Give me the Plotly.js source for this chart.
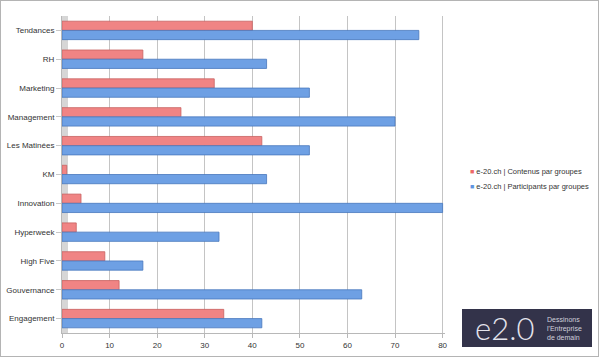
<!DOCTYPE html>
<html><head><meta charset="utf-8">
<script src="https://cdn.plot.ly/plotly-3.0.1.min.js"></script>
<style>html,body{margin:0;padding:0;background:#fff}#c{width:597px;height:355px;border:1px solid #b4b4b4}</style>
</head><body><div id="c"></div>
<script>
const categories = ["Tendances","RH","Marketing","Management","Les Matinées","KM","Innovation","Hyperweek","High Five","Gouvernance","Engagement"];
const contenus = [40,17,32,25,42,1,4,3,9,12,34];
const participants = [75,43,52,70,52,43,80,33,17,63,42];
const seriesNames = ["e-20.ch | Contenus par groupes","e-20.ch | Participants par groupes"];
const xTicks = [0,10,20,30,40,50,60,70,80];

const W=597,H=355,L=61,R=153,T=15,B=23;
const pw=W-L-R, ph=H-T-B;
const px=x=>(x-L)/pw, py=y=>1-(y-T)/ph;
const font="Liberation Sans, Arial, sans-serif";
const red='#f08484', redL='#c86261', blue='#6ea0e4', blueL='#4877bd';
const legRed='#ee6868', legBlue='#5f95e0';

const data=[
 {type:'bar',orientation:'h',name:seriesNames[0],y:categories,x:contenus,
  marker:{color:red,line:{color:redL,width:0.8}}},
 {type:'bar',orientation:'h',name:seriesNames[1],y:categories,x:participants,
  marker:{color:blue,line:{color:blueL,width:0.8}}}
];
const legendAnn=seriesNames.map((n,i)=>({
  xref:'paper',yref:'paper',x:px(467),y:py(170+i*15),xanchor:'left',yanchor:'middle',showarrow:false,
  text:'<span style="color:'+(i?legBlue:legRed)+';font-size:7px">■</span> '+n,
  font:{family:font,size:7.5,color:'#333'}
}));
const layout={
 width:W,height:H,margin:{l:L,r:R,t:T,b:B,autoexpand:false},
 paper_bgcolor:'#fff',plot_bgcolor:'#fff',
 barmode:'group',bargap:0.36,bargroupgap:0,
 font:{family:font,size:8,color:'#333'},
 showlegend:false,
 xaxis:{range:[0,80.5],tickvals:xTicks,showgrid:true,gridcolor:'#c4c4c4',gridwidth:1,
   zeroline:false,showline:true,linecolor:'#b8b8b8',ticks:'outside',ticklen:4,tickcolor:'#b8b8b8',
   tickfont:{size:8,color:'#333'},fixedrange:true,automargin:false},
 yaxis:{range:[10.5,-0.5],categoryorder:'array',categoryarray:categories,showgrid:false,showline:true,
   linecolor:'#b8b8b8',ticks:'outside',ticklen:5,tickcolor:'#c8c8c8',tickfont:{size:8,color:'#333'},
   fixedrange:true,automargin:false},
 shapes:[
  {type:'rect',xref:'paper',yref:'paper',x0:0,x1:px(67),y0:0,y1:1,fillcolor:'#d6d6d6',line:{width:0},layer:'below'},
  {type:'rect',xref:'paper',yref:'paper',x0:px(461),x1:px(591),y0:py(346),y1:py(308),fillcolor:'#33334a',line:{width:0}}
 ],
 annotations:[
  {xref:'paper',yref:'paper',x:px(503),y:py(327),xanchor:'center',yanchor:'middle',text:'e2.0',showarrow:false,
   font:{family:'Lato, sans-serif',size:31,weight:300,color:'#e4e4ec'}},
  {xref:'paper',yref:'paper',x:px(544),y:py(327),xanchor:'left',yanchor:'middle',align:'left',showarrow:false,
   text:'Dessinons<br>l\'Entreprise<br>de demain',font:{family:font,size:7,color:'#d0d0dc'}}
 ].concat(legendAnn)
};
Plotly.newPlot('c',data,layout,{displayModeBar:false,staticPlot:true});
</script></body></html>
